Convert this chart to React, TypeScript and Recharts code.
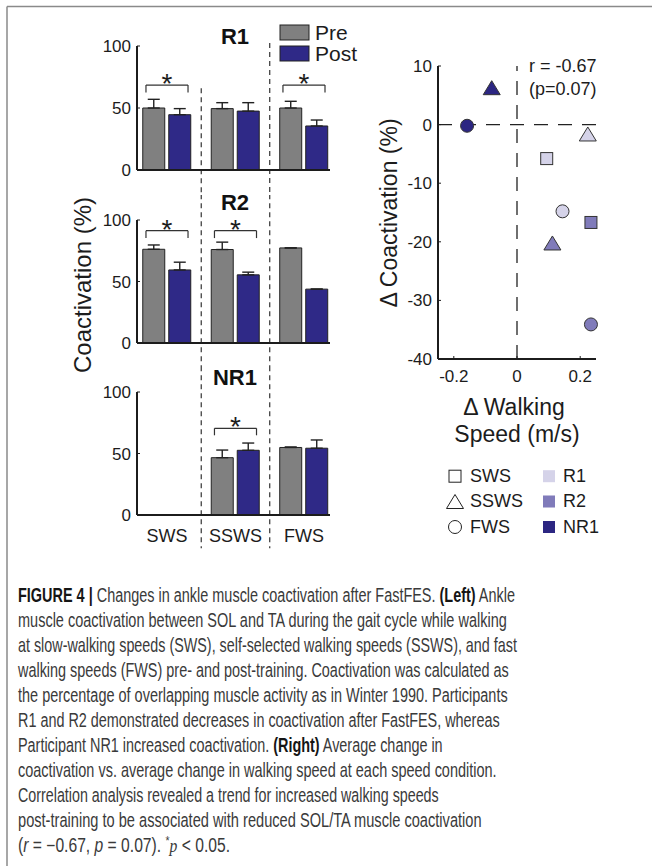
import React, { useLayoutEffect, useRef, useState } from 'react';
import {
  BarChart,
  Bar,
  XAxis,
  YAxis,
  ErrorBar,
  ReferenceLine,
  ReferenceDot,
  ScatterChart,
  Scatter,
} from 'recharts';

const FONT = "'Liberation Sans', Arial, Helvetica, sans-serif";
const INK = '#1c1c1c';

// ---------------- Left panels: coactivation (%) ----------------
const categories = ['SWS', 'SSWS', 'FWS'];
const categoryX = [1, 2, 3];
const seriesNames = ['Pre', 'Post'];
const seriesColors = ['#808080', '#2f2987'];
const barTicks = [0, 50, 100];
const panelTitles = ['R1', 'R2', 'NR1'];

const r1Pre = [50, 49.5, 50];
const r1PreErr = [7, 4.8, 5.4];
const r1Post = [44.6, 47.5, 35.5];
const r1PostErr = [4.9, 6.8, 4.8];
const r1Sig = ['SWS', 'FWS'];

const r2Pre = [76.2, 76, 77.3];
const r2PreErr = [3.5, 6, 0];
const r2Post = [59.4, 55.4, 43.8];
const r2PostErr = [6.3, 2.2, 0];
const r2Sig = ['SWS', 'SSWS'];

const nr1Pre = [null, 46.6, 54.9];
const nr1PreErr = [0, 6.2, 0.4];
const nr1Post = [null, 52.6, 54.3];
const nr1PostErr = [0, 5.9, 6.7];
const nr1Sig = ['SSWS'];

// ---------------- Right panel: change vs change ----------------
const participants = ['R1', 'R2', 'NR1'];
const participantColors = ['#d5d3e9', '#807bba', '#2c2682'];
const conditions = ['SWS', 'SSWS', 'FWS'];
const r1SpeedChange = [0.094, 0.224, 0.144];
const r1CoactChange = [-5.8, -1.6, -14.8];
const r2SpeedChange = [0.234, 0.112, 0.234];
const r2CoactChange = [-16.7, -20.2, -34.1];
const nr1SpeedChange = [null, -0.08, -0.158];
const nr1CoactChange = [null, 6.3, -0.2];
const speedTicks = [-0.2, 0, 0.2];
const coactTicks = [-40, -30, -20, -10, 0, 10];

// ---------------- Caption ----------------
type Seg = { t: string; b?: boolean; i?: boolean; sup?: boolean; serif?: boolean };
const captionLines: Seg[][] = [
  [{ t: 'FIGURE 4 | ', b: true }, { t: 'Changes in ankle muscle coactivation after FastFES. ' }, { t: '(Left)', b: true }, { t: ' Ankle' }],
  [{ t: 'muscle coactivation between SOL and TA during the gait cycle while walking' }],
  [{ t: 'at slow-walking speeds (SWS), self-selected walking speeds (SSWS), and fast' }],
  [{ t: 'walking speeds (FWS) pre- and post-training. Coactivation was calculated as' }],
  [{ t: 'the percentage of overlapping muscle activity as in Winter 1990. Participants' }],
  [{ t: 'R1 and R2 demonstrated decreases in coactivation after FastFES, whereas' }],
  [{ t: 'Participant NR1 increased coactivation. ' }, { t: '(Right)', b: true }, { t: ' Average change in' }],
  [{ t: 'coactivation vs. average change in walking speed at each speed condition.' }],
  [{ t: 'Correlation analysis revealed a trend for increased walking speeds' }],
  [{ t: 'post-training to be associated with reduced SOL/TA muscle coactivation' }],
  [
    { t: '(' },
    { t: 'r', i: true },
    { t: ' = \u22120.67, ' },
    { t: 'p', i: true },
    { t: ' = 0.07). ' },
    { t: '*', sup: true },
    { t: 'p', i: true, serif: true },
    { t: ' < 0.05.' },
  ],
];
const captionWidths = [497, 489, 499, 491, 490, 482, 425, 479, 421, 464, 212];

// ---------------- Layout (pixels) ----------------
const panelLayouts = [
  { top: 0, height: 195, mTop: 46, mBottom: 5, xH: 20, sepTop: [66, 102.4], sepBottom: -21, titleY: 44 },
  { top: 195, height: 172, mTop: 25, mBottom: 4, xH: 20, sepTop: [121, 121], sepBottom: -20, titleY: 210 },
  { top: 367, height: 193, mTop: 25, mBottom: 15, xH: 30, sepTop: [121, 121], sepBottom: -27, titleY: 385 },
];
const panelSig = [
  { cats: r1Sig, y: 68.5, leg: 62.5 },
  { cats: r2Sig, y: 91.3, leg: 85.3 },
  { cats: nr1Sig, y: 70.5, leg: 64.8 },
];
const panelValues = [
  { pre: r1Pre, preErr: r1PreErr, post: r1Post, postErr: r1PostErr },
  { pre: r2Pre, preErr: r2PreErr, post: r2Post, postErr: r2PostErr },
  { pre: nr1Pre, preErr: nr1PreErr, post: nr1Post, postErr: nr1PostErr },
];

function BarPanel({ idx }: { idx: number }) {
  const L = panelLayouts[idx];
  const V = panelValues[idx];
  const S = panelSig[idx];
  const showLabels = idx === 2;
  const data = categories.map((c, i) => ({
    x: categoryX[i],
    cat: c,
    pre: V.pre[i],
    post: V.post[i],
    preErr: [0, V.preErr[i]],
    postErr: [0, V.postErr[i]],
  }));
  const sepX = [1.5, 2.5];
  return (
    <div style={{ position: 'absolute', left: 0, top: L.top, width: 360, height: L.height }}>
      <BarChart
        width={360}
        height={L.height}
        data={data}
        margin={{ top: L.mTop, right: 30, bottom: L.mBottom, left: 77 }}
        barGap={4}
        barSize={22}
      >
        <XAxis
          type="number"
          dataKey="x"
          domain={[0.562, 3.38]}
          ticks={categoryX}
          tickFormatter={(v: number) => categories[categoryX.indexOf(v)] ?? ''}
          height={L.xH}
          tick={showLabels ? { fontSize: 18, fill: INK, fontFamily: FONT } : false}
          tickLine={false}
          tickSize={0}
          tickMargin={14}
          axisLine={{ stroke: INK, strokeWidth: 2 }}
        />
        <YAxis
          type="number"
          domain={[0, 100]}
          ticks={barTicks}
          width={60}
          tickSize={-3}
          tickMargin={9}
          axisLine={{ stroke: INK, strokeWidth: 2 }}
          tickLine={{ stroke: INK, strokeWidth: 1 }}
          tick={{ fontSize: 17, fill: INK, fontFamily: FONT }}
        />
        {sepX.map((sx, k) => (
          <ReferenceLine
            key={'sep' + k}
            segment={[
              { x: sx, y: L.sepTop[k] },
              { x: sx, y: L.sepBottom },
            ]}
            stroke="#333"
            strokeWidth={1.2}
            strokeDasharray="5 4"
            ifOverflow="visible"
          />
        ))}
        <Bar dataKey="pre" name={seriesNames[0]} fill={seriesColors[0]} stroke="#222" strokeWidth={1} barSize={22} isAnimationActive={false}>
          <ErrorBar dataKey="preErr" direction="y" width={6} stroke="#222" strokeWidth={1.4} />
        </Bar>
        <Bar dataKey="post" name={seriesNames[1]} fill={seriesColors[1]} stroke="#222" strokeWidth={1} barSize={22} isAnimationActive={false}>
          <ErrorBar dataKey="postErr" direction="y" width={6} stroke="#222" strokeWidth={1.4} />
        </Bar>
        {S.cats.map((c) => {
          const cx = categoryX[categories.indexOf(c)];
          return (
            <React.Fragment key={'sig' + c}>
              <ReferenceLine segment={[{ x: cx - 0.307, y: S.y }, { x: cx + 0.307, y: S.y }]} stroke="#333" strokeWidth={1.2} ifOverflow="visible" />
              <ReferenceLine segment={[{ x: cx - 0.307, y: S.y }, { x: cx - 0.307, y: S.leg }]} stroke="#333" strokeWidth={1.2} ifOverflow="visible" />
              <ReferenceLine segment={[{ x: cx + 0.307, y: S.y }, { x: cx + 0.307, y: S.leg }]} stroke="#333" strokeWidth={1.2} ifOverflow="visible" />
              <ReferenceDot
                x={cx}
                y={S.y}
                r={0}
                ifOverflow="visible"
                shape={(p: any) => (
                  <text x={p.cx} y={p.cy + 8} textAnchor="middle" fontSize={28} fontFamily={FONT} fill={INK}>
                    *
                  </text>
                )}
              />
            </React.Fragment>
          );
        })}
      </BarChart>
    </div>
  );
}

function Marker({ cx, cy, cond, fill, stroke = '#333' }: any) {
  if (cond === 'SWS')
    return <rect x={cx - 6} y={cy - 6} width={12} height={12} fill={fill} stroke={stroke} strokeWidth={1} />;
  if (cond === 'SSWS')
    return (
      <polygon
        points={`${cx},${cy - 7} ${cx + 8.5},${cy + 7} ${cx - 8.5},${cy + 7}`}
        fill={fill}
        stroke={stroke}
        strokeWidth={1}
      />
    );
  return <circle cx={cx} cy={cy} r={6.5} fill={fill} stroke={stroke} strokeWidth={1} />;
}

const speedSets = [r1SpeedChange, r2SpeedChange, nr1SpeedChange];
const coactSets = [r1CoactChange, r2CoactChange, nr1CoactChange];

function ScatterPanel() {
  return (
    <div style={{ position: 'absolute', left: 360, top: 50, width: 280, height: 350 }}>
      <ScatterChart width={280} height={350} margin={{ top: 16, right: 44, bottom: 11, left: 18 }}>
        <XAxis
          type="number"
          dataKey="x"
          domain={[-0.25, 0.25]}
          ticks={speedTicks}
          tickFormatter={(v: number) => (v === 0 ? '0' : String(v))}
          height={30}
          tickSize={-3}
          tickMargin={14}
          axisLine={{ stroke: INK, strokeWidth: 2 }}
          tickLine={{ stroke: INK, strokeWidth: 1 }}
          tick={{ fontSize: 17, fill: INK, fontFamily: FONT }}
        />
        <YAxis
          type="number"
          dataKey="y"
          domain={[-40, 10]}
          ticks={coactTicks}
          width={60}
          tickSize={-3}
          tickMargin={9}
          axisLine={{ stroke: INK, strokeWidth: 2 }}
          tickLine={{ stroke: INK, strokeWidth: 1 }}
          tick={{ fontSize: 17, fill: INK, fontFamily: FONT }}
        />
        <ReferenceLine y={0} stroke="#222" strokeWidth={1.3} strokeDasharray="14 10" />
        <ReferenceLine x={0} stroke="#222" strokeWidth={1.3} strokeDasharray="14 10" />
        {participants.map((p, pi) => {
          const pts = conditions
            .map((c, ci) => ({ x: speedSets[pi][ci], y: coactSets[pi][ci], cond: c }))
            .filter((d) => d.x !== null && d.y !== null);
          return (
            <Scatter
              key={p}
              name={p}
              data={pts}
              fill={participantColors[pi]}
              isAnimationActive={false}
              shape={(props: any) => (
                <Marker cx={props.cx} cy={props.cy} cond={props.payload?.cond} fill={participantColors[pi]} />
              )}
            />
          );
        })}
      </ScatterChart>
    </div>
  );
}

function CaptionLine({ segs, y, width }: { segs: Seg[]; y: number; width: number }) {
  const ref = useRef<SVGTextElement>(null);
  const [k, setK] = useState(0.66);
  useLayoutEffect(() => {
    if (ref.current) {
      const w = ref.current.getComputedTextLength();
      if (w > 0) setK(width / w);
    }
  }, [width]);
  return (
    <g transform={`translate(18 ${y}) scale(${k} 1)`}>
      <text ref={ref} x={0} y={0} fontFamily={FONT} fontSize={19.5} fill="#3a3a3a">
        {segs.map((s, si) => (
          <tspan
            key={si}
            fontWeight={s.b ? 'bold' : 'normal'}
            fill={s.b ? '#151515' : '#3a3a3a'}
            fontStyle={s.i ? 'italic' : 'normal'}
            fontFamily={s.serif ? "'Liberation Serif', serif" : FONT}
            fontSize={s.sup ? 13 : undefined}
            dy={s.sup ? -7 : si > 0 && segs[si - 1].sup ? 7 : undefined}
          >
            {s.t}
          </tspan>
        ))}
      </text>
    </g>
  );
}

function Overlay() {
  const legRows = [481.7, 507, 532.5];
  return (
    <svg width={652} height={866} style={{ position: 'absolute', left: 0, top: 0 }}>
      {/* frame */}
      <line x1={7} y1={6.5} x2={652} y2={6.5} stroke="#8a8a8a" strokeWidth={1.5} />
      <line x1={7} y1={6.5} x2={7} y2={866} stroke="#8a8a8a" strokeWidth={1.5} />

      {/* panel titles */}
      {panelTitles.map((t, i) => (
        <text key={t} x={235} y={panelLayouts[i].titleY} textAnchor="middle" fontFamily={FONT} fontWeight="bold" fontSize={22} fill="#111">
          {t}
        </text>
      ))}

      {/* Pre / Post legend */}
      {seriesNames.map((n, i) => (
        <g key={n}>
          <rect x={280} y={25 + i * 21} width={29} height={15} fill={seriesColors[i]} stroke="#222" strokeWidth={1} />
          <text x={315} y={39.5 + i * 21} fontFamily={FONT} fontSize={21} fill={INK}>
            {n}
          </text>
        </g>
      ))}

      {/* left y label */}
      <text
        transform="translate(82,285) rotate(-90)"
        textAnchor="middle"
        dominantBaseline="central"
        fontFamily={FONT}
        fontSize={24}
        fill={INK}
      >
        Coactivation (%)
      </text>

      {/* scatter annotations */}
      <text x={529} y={72} fontFamily={FONT} fontSize={18} fill={INK}>
        r = -0.67
      </text>
      <text x={529} y={95} fontFamily={FONT} fontSize={18} fill={INK}>
        (p=0.07)
      </text>
      <text
        transform="translate(389,213) rotate(-90)"
        textAnchor="middle"
        dominantBaseline="central"
        fontFamily={FONT}
        fontSize={23}
        fill={INK}
      >
        {'\u0394 Coactivation (%)'}
      </text>
      <text x={514} y={415} textAnchor="middle" fontFamily={FONT} fontSize={23} fill={INK}>
        {'\u0394 Walking'}
      </text>
      <text x={517} y={442} textAnchor="middle" fontFamily={FONT} fontSize={23} fill={INK}>
        Speed (m/s)
      </text>

      {/* scatter legend: conditions (shapes) */}
      {conditions.map((c, i) => (
        <g key={c}>
          <Marker cx={455} cy={legRows[i] - 5.5} cond={c} fill="none" stroke="#222" />
          <text x={470} y={legRows[i]} fontFamily={FONT} fontSize={18} fill={INK}>
            {c}
          </text>
        </g>
      ))}
      {/* scatter legend: participants (colours) */}
      {participants.map((p, i) => (
        <g key={p}>
          <rect x={543} y={legRows[i] - 11.5} width={12} height={12} fill={participantColors[i]} />
          <text x={563} y={legRows[i]} fontFamily={FONT} fontSize={18} fill={INK}>
            {p}
          </text>
        </g>
      ))}

      {/* caption */}
      {captionLines.map((segs, li) => (
        <CaptionLine key={li} segs={segs} y={601.7 + li * 25} width={captionWidths[li]} />
      ))}
    </svg>
  );
}

export default function App() {
  return (
    <div style={{ position: 'absolute', left: 0, top: 0, width: 652, height: 866, background: '#fff', fontFamily: FONT }}>
      <Overlay />
      {panelLayouts.map((_, i) => (
        <BarPanel key={i} idx={i} />
      ))}
      <ScatterPanel />
    </div>
  );
}
